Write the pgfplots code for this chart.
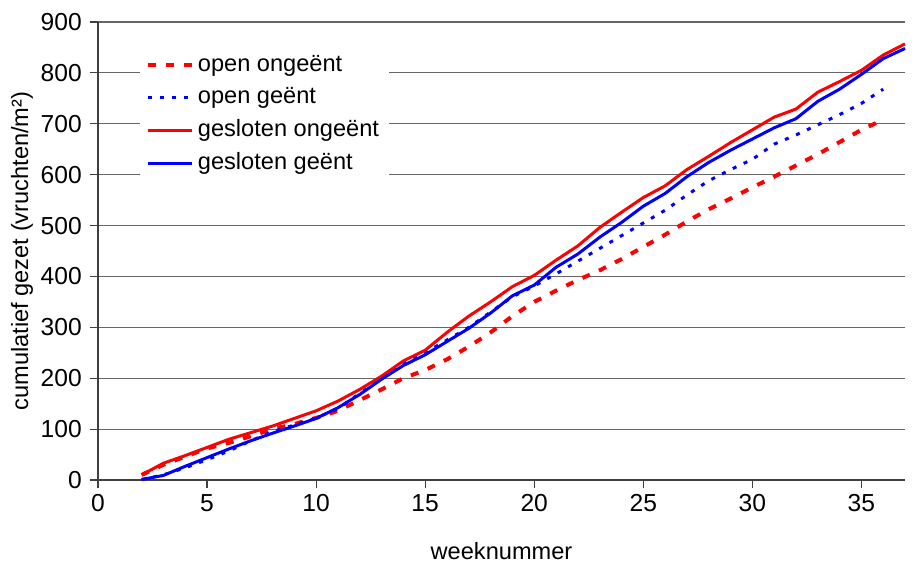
\documentclass[border=0pt]{standalone}
\usepackage{pgfplots}
\pgfplotsset{compat=1.18}
\usepackage{fontspec}
\setmainfont{Liberation Sans}
\definecolor{xred}{RGB}{255,0,0}
\definecolor{xblue}{RGB}{0,0,255}
\begin{document}
\fontsize{11.8}{14}\selectfont
\begin{tikzpicture}
\begin{axis}[
 width=403.5pt, height=229pt, scale only axis,
 xmin=0, xmax=37, ymin=0, ymax=900,
 xtick={0,5,...,35}, ytick={0,100,...,900},
 axis x line=bottom, axis y line=left,
 axis line style={-, black!75, line width=0.6pt},
 tick style={black!75, line width=0.6pt},
 tick align=outside, major tick length=4pt,
 ymajorgrids, grid style={black!60, line width=0.6pt},
 xlabel={weeknummer}, ylabel={cumulatief gezet (vruchten/m²)},
 xlabel style={at={(axis description cs:0.5,-0.155)}, anchor=center},
 ylabel style={at={(axis description cs:-0.094,0.5)}, anchor=center},
 /pgf/number format/assume math mode=true,
 tick label style={font=\fontsize{12.3}{14}\selectfont},
 xticklabel style={yshift=1pt},
 label style={font=\fontsize{11.8}{14}\selectfont},
 legend style={at={(0.051,0.945)}, anchor=north west, draw=none, fill=white,
   font=\fontsize{11.8}{14}\selectfont, row sep=2.2pt},
 legend cell align=left,
 legend image code/.code={\draw[#1] (0cm,0cm) -- (0.78cm,0cm);},
 clip=false,
]
\addplot[xred, line width=2pt, dash pattern=on 4pt off 5pt] coordinates {
(2,10)(3,30)(4,46)(5,62)(6,73)(7,86)(8,100)(9,110)(10,122)(11,136)(12,157)(13,178)(14,200)(15,216)(16,237)(17,262)(18,290)(19,322)(20,350)(21,372)(22,393)(23,412)(24,434)(25,458)(26,482)(27,508)(28,532)(29,553)(30,575)(31,596)(32,618)(33,640)(34,664)(35,688)(36,708)};
\addlegendentry{open ongeënt}
\addplot[xblue, line width=1.5pt, dash pattern=on 2pt off 4pt] coordinates {
(2,1)(3,10)(4,24)(5,40)(6,57)(7,77)(8,95)(9,108)(10,122)(11,140)(12,170)(13,200)(14,230)(15,250)(16,275)(17,300)(18,330)(19,360)(20,381)(21,405)(22,430)(23,455)(24,480)(25,505)(26,530)(27,560)(28,588)(29,610)(30,630)(31,660)(32,678)(33,698)(34,718)(35,740)(36,768)};
\addlegendentry{open geënt}
\addplot[xred, line width=1.5pt] coordinates {
(2,10)(3,33)(4,48)(5,64)(6,80)(7,93)(8,106)(9,121)(10,136)(11,155)(12,178)(13,204)(14,234)(15,255)(16,290)(17,322)(18,350)(19,380)(20,402)(21,432)(22,460)(23,496)(24,526)(25,555)(26,578)(27,610)(28,636)(29,663)(30,688)(31,713)(32,729)(33,762)(34,783)(35,805)(36,835)(37,857)};
\addlegendentry{gesloten ongeënt}
\addplot[xblue, line width=1.5pt] coordinates {
(2,1)(3,9)(4,27)(5,44)(6,61)(7,77)(8,92)(9,106)(10,121)(11,142)(12,168)(13,198)(14,225)(15,246)(16,272)(17,298)(18,328)(19,362)(20,383)(21,418)(22,444)(23,477)(24,506)(25,538)(26,563)(27,596)(28,624)(29,648)(30,670)(31,692)(32,710)(33,744)(34,768)(35,797)(36,828)(37,848)};
\addlegendentry{gesloten geënt}
\path (rel axis cs:0,0) ++(-49pt,-41pt) coordinate (bbA);
\path (rel axis cs:1,1) ++(5pt,11pt) coordinate (bbB);
\end{axis}
\end{tikzpicture}
\end{document}
